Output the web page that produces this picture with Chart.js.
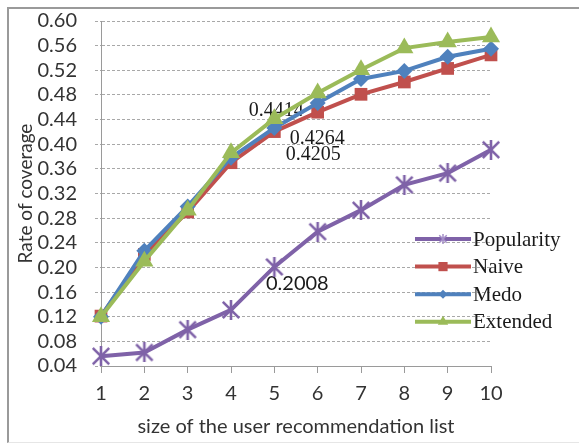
<!DOCTYPE html>
<html><head><meta charset="utf-8">
<script src="https://cdn.jsdelivr.net/npm/chart.js@4.4.1/dist/chart.umd.min.js"></script>
<style>
html,body{margin:0;padding:0;background:#fff;}
#frame{position:absolute;left:7px;top:7px;width:572px;height:436px;border-top:2px solid #9a9a9a;border-left:2px solid #9a9a9a;border-bottom:1px solid #e6e6e6;box-sizing:border-box;}
#wrap{position:absolute;left:0;top:0;width:579px;height:443px;}
</style></head><body>
<div id="frame"></div>
<div id="wrap"><canvas id="c" width="579" height="443"></canvas></div>
<script>
const categories = ['1','2','3','4','5','6','7','8','9','10'];
const seriesNames = ['Popularity','Naive','Medo','Extended'];
const popularity = [0.056,0.062,0.099,0.131,0.2008,0.258,0.293,0.334,0.353,0.391];
const naive      = [0.121,0.221,0.290,0.370,0.4205,0.452,0.481,0.501,0.523,0.545];
const medo       = [0.120,0.227,0.299,0.378,0.4264,0.467,0.506,0.519,0.542,0.555];
const extended   = [0.120,0.210,0.293,0.386,0.4414,0.483,0.521,0.556,0.566,0.574];
const yMin = 0.04, yMax = 0.60, yStep = 0.04;
// labelled points: [series index, category index]
const labelledPoints = [[3,4],[2,4],[1,4],[0,4]];

const colors = ['#7f62a8','#c0504d','#4f81bd','#9bbb59'];

function starCanvas(size, color, lw){
  const c = document.createElement('canvas');
  c.width = size; c.height = size;
  const g = c.getContext('2d');
  g.strokeStyle = color; g.lineWidth = lw; g.lineCap = 'butt';
  const m = lw/2 + 0.5, s = size - m;
  g.beginPath();
  g.moveTo(m,m); g.lineTo(s,s);
  g.moveTo(s,m); g.lineTo(m,s);
  g.moveTo(size/2,0); g.lineTo(size/2,size);
  g.stroke();
  return c;
}
const starBig = starCanvas(20, colors[0], 2.6);
const starSmall = starCanvas(10, '#a58fc8', 1.5);

const values = [popularity, naive, medo, extended];
const styles = [starBig,'rect','rectRot','triangle'];
const radii = [9,9,8,10.5];
const legendStyles = [starSmall,'rect','rectRot','triangle'];
const legendRadii = [5,6.5,4.5,6];
const datasets = seriesNames.map((n,i)=>({
  label:n, data:values[i], borderColor:colors[i], backgroundColor:colors[i],
  borderWidth:4, pointStyle:styles[i], pointRadius:radii[i], pointHoverRadius:radii[i],
  pointBorderWidth:0, tension:0, order:3-i, fill:false,
  legendStyle:legendStyles[i], legendRadius:legendRadii[i]
}));

const labelOffsets = {'3-4':[2,-8,'serif'],'2-4':[43,11,'serif'],'1-4':[39,23,'serif'],'0-4':[23,17,'sans']};
const dataLabelPlugin = {
  id:'dataLabels',
  beforeDatasetsDraw(chart){
    const ctx = chart.ctx;
    labelledPoints.forEach(([s,k])=>{
      const pt = chart.getDatasetMeta(s).data[k];
      const off = labelOffsets[s+'-'+k];
      ctx.save();
      ctx.fillStyle = '#1a1a1a';
      ctx.font = off[2]==='serif' ? '20px "Liberation Serif"' : '20px Lato';
      ctx.textAlign='center'; ctx.textBaseline='middle';
      ctx.fillText(values[s][k].toFixed(4), pt.x+off[0], pt.y+off[1]);
      ctx.restore();
    });
  }
};
const legendPlugin = {
  id:'customLegend',
  afterDatasetsDraw(chart){
    const ctx = chart.ctx, a = chart.chartArea;
    const x0 = a.right - 76, x1 = a.right - 20;
    chart.data.datasets.forEach((ds,i)=>{
      const y = a.top + 218 + i*27.6;
      ctx.save();
      ctx.strokeStyle = ds.borderColor; ctx.lineWidth = 4;
      ctx.beginPath(); ctx.moveTo(x0,y); ctx.lineTo(x1,y); ctx.stroke();
      ctx.fillStyle = ds.borderColor; ctx.strokeStyle = ds.borderColor;
      Chart.helpers.drawPoint(ctx,{pointStyle:ds.legendStyle, radius:ds.legendRadius, rotation:0, borderWidth:0}, (x0+x1)/2, y);
      ctx.fillStyle = '#1a1a1a';
      ctx.font = '21px "Liberation Serif"';
      ctx.textAlign='left'; ctx.textBaseline='middle';
      ctx.fillText(ds.label, x1+2, y+1);
      ctx.restore();
    });
  }
};

new Chart(document.getElementById('c'), {
  type:'line',
  data:{labels:categories, datasets},
  options:{
    responsive:false, animation:false,
    layout:{padding:{top:21,right:88,left:0,bottom:0}},
    plugins:{legend:{display:false}, tooltip:{enabled:false}},
    scales:{
      x:{
        offset:false,
        grid:{drawOnChartArea:false, drawTicks:true, tickLength:7, color:'#9a9a9a'},
        border:{display:true, color:'#9a9a9a', width:1},
        ticks:{font:{family:'Lato', size:20}, color:'#333', padding:9, maxRotation:0, autoSkip:false},
        title:{display:true, text:'size of the user recommendation list', font:{family:'Lato', size:20}, color:'#333', padding:{top:0,bottom:4}},
        afterFit(s){ s.height = 77; s.paddingLeft = 0; s.paddingRight = 0; }
      },
      y:{
        min:yMin, max:yMax,
        grid:{color:'#a8a8a8', lineWidth:1, tickLength:6, tickBorderDash:[3,2], tickColor:'#a8a8a8'},
        border:{display:true, color:'#9a9a9a', width:1, dash:[3,2]},
        ticks:{stepSize:yStep, autoSkip:false, font:{family:'Lato', size:20}, color:'#333', padding:18,
          callback:(v)=>Number(v).toFixed(2)},
        title:{display:true, text:'Rate of coverage', font:{family:'Lato', size:19}, color:'#333', padding:{top:14,bottom:0}},
        afterFit(s){ s.width = 101; s.paddingTop = 0; s.paddingBottom = 0; }
      }
    }
  },
  plugins:[dataLabelPlugin, legendPlugin]
});
</script>
</body></html>
